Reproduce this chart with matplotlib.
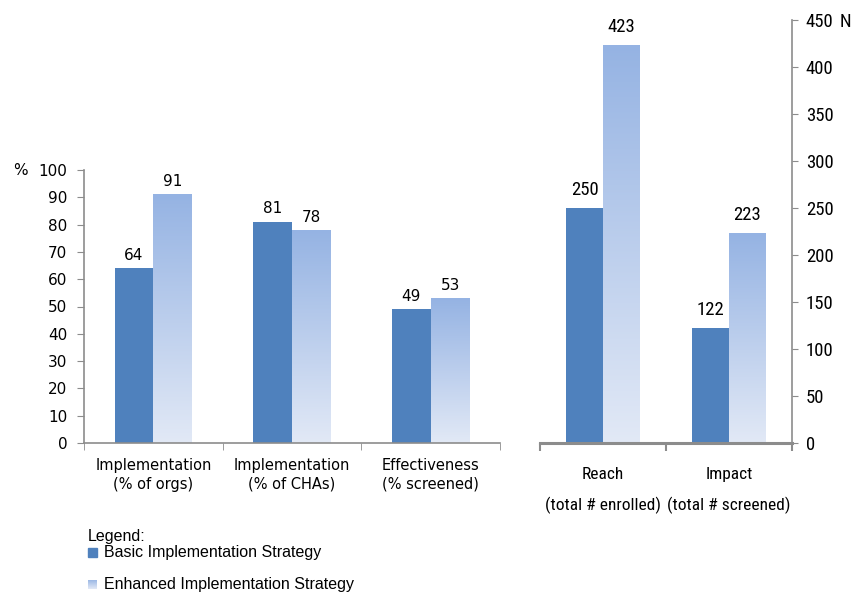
import numpy as np
import matplotlib.pyplot as plt
from matplotlib.colors import LinearSegmentedColormap
from matplotlib.patches import Rectangle

# left panel (percent)
pct_labels = ['Implementation\n(% of orgs)', 'Implementation\n(% of CHAs)', 'Effectiveness\n(% screened)']
pct_basic = [64, 81, 49]
pct_enhanced = [91, 78, 53]
pct_ticks = [0, 10, 20, 30, 40, 50, 60, 70, 80, 90, 100]

# right panel (counts)
n_labels = ['Reach\n(total # enrolled)', 'Impact\n(total # screened)']
n_basic = [250, 122]
n_enhanced = [423, 223]
n_ticks = [0, 50, 100, 150, 200, 250, 300, 350, 400, 450]

basic_col = '#4f81bd'
grad = LinearSegmentedColormap.from_list('g', ['#e2e9f6', '#95b3e3'])
axis_col = '#8c8c8c'
narrow = ['Roboto Condensed', 'DejaVu Sans']


def gradient_bars(ax, xs, heights, width):
    g = np.linspace(0, 1, 256).reshape(-1, 1)
    for x, h in zip(xs, heights):
        ax.imshow(g, cmap=grad, origin='lower', aspect='auto',
                  extent=[x, x + width, 0, h], zorder=2, interpolation='bilinear')


fig = plt.figure(figsize=(8.51, 5.95), dpi=100)

# ---- left chart
ax1 = fig.add_axes([84 / 851, 152 / 595, 416 / 851, 273 / 595])
x1 = np.arange(len(pct_labels))
w1 = 0.28
ax1.bar(x1 - w1, pct_basic, w1, align='edge', color=basic_col, zorder=2)
gradient_bars(ax1, x1, pct_enhanced, w1)
for i in range(len(x1)):
    ax1.text(x1[i] - w1 / 2, pct_basic[i] + 2, str(pct_basic[i]), ha='center', va='bottom', fontsize=11)
    ax1.text(x1[i] + w1 / 2, pct_enhanced[i] + 2, str(pct_enhanced[i]), ha='center', va='bottom', fontsize=11)
ax1.set_xlim(-0.5, 2.5)
ax1.set_ylim(0, 100)
ax1.set_yticks(pct_ticks)
ax1.tick_params(axis='y', labelsize=11, color=axis_col, length=5, pad=7)
ax1.set_xticks(x1)
ax1.set_xticklabels(pct_labels, fontsize=10.5, linespacing=1.3)
ax1.set_xticks([-0.5, 0.5, 1.5, 2.5], minor=True)
ax1.tick_params(axis='x', which='major', length=0, pad=11)
ax1.tick_params(axis='x', which='minor', length=5, color=axis_col)
for s in ['top', 'right']:
    ax1.spines[s].set_visible(False)
for s in ['left', 'bottom']:
    ax1.spines[s].set_color(axis_col)
    ax1.spines[s].set_linewidth(1.2)
ax1.text(-0.17, 1.0, '%', transform=ax1.transAxes, fontsize=11, va='center')

# ---- right chart
ax2 = fig.add_axes([540 / 851, 152 / 595, 252 / 851, 423 / 595])
x2 = np.arange(len(n_labels))
w2 = 0.29
ax2.bar(x2 - w2, n_basic, w2, align='edge', color=basic_col, zorder=2)
gradient_bars(ax2, x2, n_enhanced, w2)
for i in range(len(x2)):
    ax2.text(x2[i] - w2 / 2, n_basic[i] + 10, str(n_basic[i]), ha='center', va='bottom',
             fontsize=13.5, family=narrow)
    ax2.text(x2[i] + w2 / 2, n_enhanced[i] + 10, str(n_enhanced[i]), ha='center', va='bottom',
             fontsize=13.5, family=narrow)
ax2.set_xlim(-0.5, 1.5)
ax2.set_ylim(0, 450)
ax2.yaxis.tick_right()
ax2.set_yticks(n_ticks)
ax2.set_yticklabels([str(t) for t in n_ticks], family=narrow, fontsize=13.5)
ax2.tick_params(axis='y', color=axis_col, length=4, pad=6)
ax2.set_xticks(x2)
ax2.set_xticklabels(n_labels, family=narrow, fontsize=12.5, linespacing=2.1)
ax2.set_xticks([-0.5, 0.5, 1.5], minor=True)
ax2.tick_params(axis='x', which='major', length=0, pad=17)
ax2.tick_params(axis='x', which='minor', length=6, color=axis_col, width=1.5)
for s in ['top', 'left']:
    ax2.spines[s].set_visible(False)
ax2.spines['right'].set_color(axis_col)
ax2.spines['right'].set_linewidth(1.2)
ax2.spines['bottom'].set_color(axis_col)
ax2.spines['bottom'].set_linewidth(2.2)
ax2.text(1.19, 0.995, 'N', transform=ax2.transAxes, fontsize=13.5, va='center', family=narrow)

# ---- legend block
lf = 'Liberation Sans'
fig.text(88 / 851, 1 - 537 / 595, 'Legend:', fontsize=11.5, family=lf, va='center')
fig.patches.append(Rectangle((88 / 851, 1 - 557 / 595), 9 / 851, 9 / 595,
                             transform=fig.transFigure, color=basic_col))
fig.text(104 / 851, 1 - 552 / 595, 'Basic Implementation Strategy', fontsize=11.5, family=lf, va='center')
lax = fig.add_axes([88 / 851, 1 - 589 / 595, 9 / 851, 9 / 595])
lax.imshow(np.linspace(0, 1, 50).reshape(-1, 1), cmap=grad, origin='lower', aspect='auto')
lax.axis('off')
fig.text(104 / 851, 1 - 584 / 595, 'Enhanced Implementation Strategy', fontsize=11.5, family=lf, va='center')

fig.savefig('out.png', dpi=100)
